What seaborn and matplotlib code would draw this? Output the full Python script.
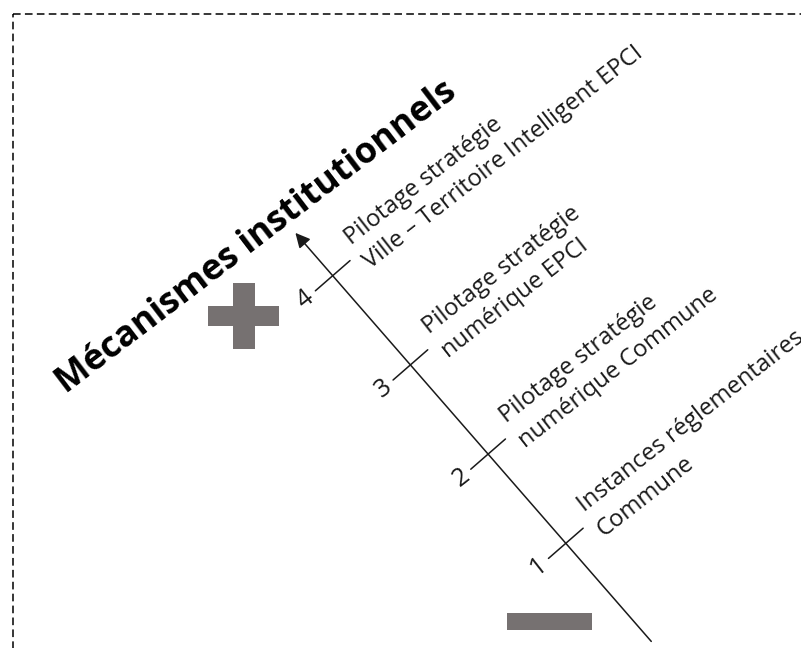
import matplotlib
matplotlib.use("Agg")
import math
import matplotlib.pyplot as plt
from matplotlib.transforms import Affine2D
from matplotlib.patches import Rectangle
import seaborn as sns

# ---- data ----
levels = [1, 2, 3, 4]
level_labels = [
    "Instances réglementaires\nCommune",
    "Pilotage stratégie\nnumérique Commune",
    "Pilotage stratégie\nnumérique EPCI",
    "Pilotage stratégie\nVille \u2013 Territoire Intelligent EPCI",
]
title = "Mécanismes institutionnels"

sns.set_theme(style="white")
plt.rcParams["font.family"] = ["Open Sans", "DejaVu Sans"]

W, H = 801, 648
fig = plt.figure(figsize=(W / 100, H / 100), dpi=100)
ax = fig.add_axes([0, 0, 1, 1])
ax.set_xlim(0, W)
ax.set_ylim(H, 0)
ax.axis("off")
renderer = fig.canvas.get_renderer()


def fit_size(s, target_px, weight="normal"):
    t = ax.text(0, 0, s, fontsize=10, fontweight=weight)
    w = t.get_window_extent(renderer).width
    t.remove()
    return 10 * target_px / w


# axis coordinate system: (level, perpendicular offset in px) -> canvas px
ux, uy = -77.7, -89.2          # one level step
px_, py_ = 0.754, -0.657       # unit perpendicular (towards upper right)
x0, y0 = 643.5, 632.5          # level 0
lvl_aff = Affine2D([[ux, px_, x0], [uy, py_, y0], [0, 0, 1]])
axis_tr = lvl_aff + ax.transData
step = math.hypot(ux, uy)

dark = "#1a1a1a"
# main axis with arrow
ax.annotate("", xy=(4.48, 0), xytext=(-0.1, 0), xycoords=axis_tr, textcoords=axis_tr,
            arrowprops=dict(arrowstyle="-|>", lw=1.1, color=dark, mutation_scale=22,
                            shrinkA=0, shrinkB=0))

rot = 38
lab_fs = fit_size("Pilotage stratégie", 193)
num_fs = lab_fs * 1.05
down = (math.sin(math.radians(rot)), math.cos(math.radians(rot)))
line_gap = 31

for lv, lab in zip(levels, level_labels):
    ax.plot([lv, lv], [-23, 23], color=dark, lw=1.1, transform=axis_tr)
    ax.text(lv, -36, str(lv), transform=axis_tr, rotation=rot, rotation_mode="anchor",
            ha="center", va="center", fontsize=num_fs, color=dark)
    bx, by = lvl_aff.transform((lv + 11 / step, 34))
    for i, line in enumerate(lab.split("\n")):
        ax.text(bx + down[0] * line_gap * i, by + down[1] * line_gap * i, line,
                rotation=rot, rotation_mode="anchor", ha="left", va="baseline",
                fontsize=lab_fs, color=dark)

# title
title_fs = fit_size(title, 495, "bold")
ax.text(66, 394, title, rotation=37.3, rotation_mode="anchor", ha="left",
        va="baseline", fontsize=title_fs, fontweight="bold", color="black")

# plus / minus symbols
grey = "#767171"
ax.add_patch(Rectangle((233, 283), 22, 66, color=grey, lw=0))
ax.add_patch(Rectangle((208, 306), 71, 20, color=grey, lw=0))
ax.add_patch(Rectangle((507, 613), 85, 17, color=grey, lw=0))

# dashed frame
ax.add_patch(Rectangle((12.5, 13.5), 1000, 1000, fill=False, edgecolor="black",
                       lw=1.1, linestyle=(0, (5, 2.8))))

fig.savefig("out.png", dpi=100)
